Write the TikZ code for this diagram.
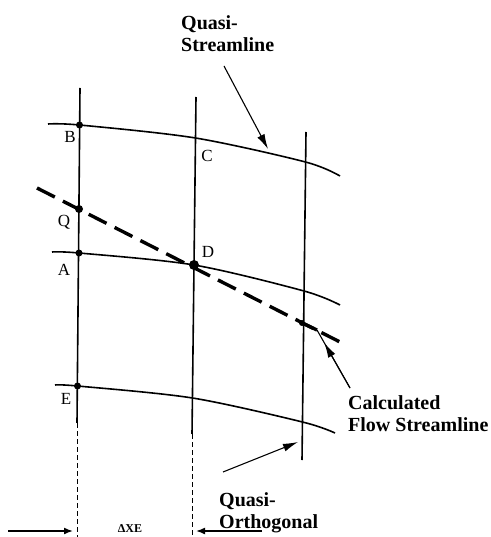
\documentclass[tikz,border=0pt]{standalone}
\usepackage{fontspec}
\setmainfont{Liberation Serif}
\usetikzlibrary{arrows.meta,calc}

\tikzset{
  gridline/.style={line width=1.6pt},
  flowline/.style={line width=3.4pt, dash pattern=on 20pt off 9pt},
  guideline/.style={line width=0.6pt, dash pattern=on 5pt off 3pt},
  callout/.style={line width=1.1pt, -{Latex[length=15pt,width=8pt]}},
  gapmark/.style={line width=1.6pt, -{Latex[length=9pt,width=7pt]}},
  gridpt/.style={circle, fill=black, inner sep=0pt, minimum size=7pt},
  ptlabel/.style={font=\fontsize{17}{19}\selectfont, inner sep=0pt},
  caption/.style={font=\fontsize{20}{22.5}\selectfont\bfseries, align=left, inner sep=0pt, anchor=north west},
}

\begin{document}
\begin{tikzpicture}[x=1pt,y=-1pt]
\useasboundingbox (0,0) rectangle (490,537);
% quasi-orthogonals
\coordinate (o1t) at (80,88);    \coordinate (o1b) at (77,423);
\coordinate (o2t) at (196,97);   \coordinate (o2b) at (192,434);
\coordinate (o3t) at (306,132);  \coordinate (o3b) at (302,460);
\coordinate (g1) at (77,537);    \coordinate (g2) at (192,537);
\draw[gridline] (o1t) -- (o1b);
\draw[gridline] (o2t) -- (o2b);
\draw[gridline] (o3t) -- (o3b);
\draw[guideline] (o1b) -- (g1);
\draw[guideline] (o2b) -- (g2);
% quasi-streamlines
\coordinate (s1a) at (48,124);  \coordinate (B) at (79.5,125);  \coordinate (C) at (195.5,138);
\coordinate (s1c) at (305.5,162); \coordinate (s1e) at (340,176);
\coordinate (s2a) at (52,252);  \coordinate (A) at (79,253);  \coordinate (D) at (194,265);
\coordinate (s2c) at (304,291); \coordinate (s2e) at (340,305);
\coordinate (s3a) at (55,385);  \coordinate (E) at (77.5,386);  \coordinate (s3b) at (192.5,398);
\coordinate (s3c) at (302.5,422); \coordinate (s3e) at (335,433);
\draw[gridline] plot[smooth, tension=0.5] coordinates {(s1a) (B) (C) (s1c) (s1e)};
\draw[gridline] plot[smooth, tension=0.5] coordinates {(s2a) (A) (D) (s2c) (s2e)};
\draw[gridline] plot[smooth, tension=0.5] coordinates {(s3a) (E) (s3b) (s3c) (s3e)};
% calculated streamline
\coordinate (f0) at (37,188);  \coordinate (Q) at (79,209);
\coordinate (P) at (302,323);  \coordinate (f1) at (340,342);
\coordinate (kink) at (317,330);
\draw[flowline] (f0) -- (f1);
\draw[line width=3.4pt] (P) -- (kink);
% grid points
\node[gridpt] (pB) at (B) {};
\node[gridpt, minimum size=8pt] (pQ) at (Q) {};
\node[gridpt] (pA) at (A) {};
\node[gridpt, minimum size=10pt] (pD) at (D) {};
\node[gridpt] (pE) at (E) {};
\node[gridpt, minimum size=6pt] (pP) at (P) {};
\node[ptlabel] (lB) at (70,137) {B};
\node[ptlabel] (lC) at (207,156) {C};
\node[ptlabel] (lQ) at (64,222) {Q};
\node[ptlabel] (lA) at (64,270) {A};
\node[ptlabel] (lD) at (208,252) {D};
\node[ptlabel] (lE) at (66,399) {E};
% captions
\node[caption] (qs) at (181,15) {Quasi-\\Streamline};
\node[caption] (cf) at (348,395) {Calculated\\Flow Streamline};
\node[caption] (qo) at (219,492) {Quasi-\\Orthogonal};
\coordinate (qsa) at (224,66);   \coordinate (qsb) at (268,149);
\coordinate (cfa) at (350,388);
\coordinate (qoa) at (223,472);  \coordinate (qob) at (298,442);
\draw[callout] (qsa) -- (qsb);
\draw[line width=1.1pt] (cfa) -- (kink);
\draw[callout] (cfa) -- ($(cfa)!0.78!(kink)$);
\draw[callout] (qoa) -- (qob);
% spacing marker
\coordinate (m1a) at (8,531);    \coordinate (m1b) at (73,531);
\coordinate (m2a) at (262,531);  \coordinate (m2b) at (196,531);
\draw[gapmark] (m1a) -- (m1b);
\draw[gapmark] (m2a) -- (m2b);
\node[font=\fontsize{12}{14}\selectfont\bfseries, inner sep=0pt] (dxe) at (130,529) {ΔXE};
\end{tikzpicture}
\end{document}
